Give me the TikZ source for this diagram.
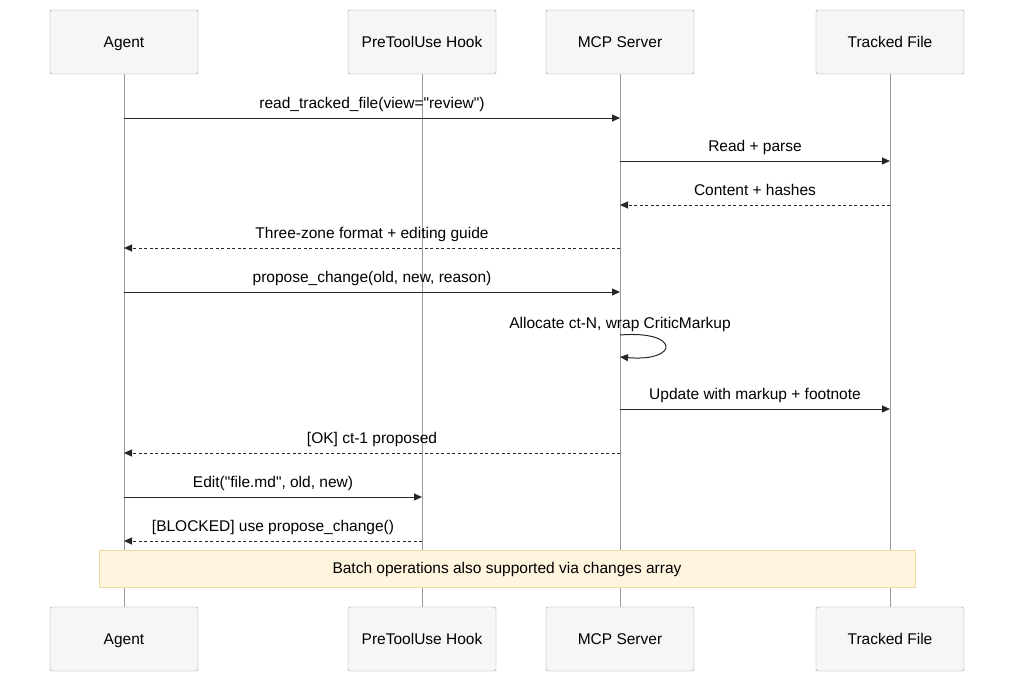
\documentclass[tikz,border=0pt]{standalone}
\usepackage{fontspec}
\setmainfont{Liberation Sans}
\usetikzlibrary{arrows.meta,calc}
\begin{document}
\begin{tikzpicture}[x=1pt,y=-1pt,
  actor/.style={draw=black!40,fill={rgb,255:red,245;green,246;blue,248},rounded corners=2pt,minimum width=148pt,minimum height=64pt,text height=11pt,text depth=1pt,font=\fontsize{15.5}{17}\selectfont},
  life/.style={draw=black!40,line width=1pt},
  msg/.style={-{Triangle[length=8pt,width=7pt]},line width=1pt,black!85},
  ret/.style={msg,dashed,dash pattern=on 3pt off 2.5pt},
  lab/.style={font=\fontsize{15.5}{17}\selectfont,anchor=base}]
\useasboundingbox (0,0) rectangle (1022,688);
\foreach \n/\x/\t in {a/124/Agent,h/422/PreToolUse Hook,m/620/MCP Server,f/890/Tracked File}{
  \coordinate (\n1) at (\x,74);
  \coordinate (\n2) at (\x,607);
  \draw[life] (\n1) -- (\n2);
  \node[actor] (\n T) at (\x,42) {\t};
  \node[actor] (\n B) at (\x,639) {\t};
}
\node[draw={rgb,255:red,240;green,215;blue,160},fill={rgb,255:red,255;green,245;blue,222},minimum width=816pt,minimum height=37pt,text height=11pt,text depth=1pt,font=\fontsize{15.5}{17}\selectfont] (note) at (507,568.5) {Batch operations also supported via changes array};
\foreach \s/\t/\y/\st/\txt in {
 a/m/118/msg/{read\_tracked\_file(view=\textquotedbl review\textquotedbl)},
 m/f/161/msg/{Read + parse},
 f/m/205/ret/{Content + hashes},
 m/a/248/ret/{Three-zone format + editing guide},
 a/m/292/msg/{propose\_change(old, new, reason)},
 m/f/409/msg/{Update with markup + footnote},
 m/a/453/ret/{[OK] ct-1 proposed},
 a/h/497/msg/{Edit(\textquotedbl file.md\textquotedbl, old, new)},
 h/a/541/ret/{[BLOCKED] use propose\_change()}}{
  \coordinate (s) at (\s1 |- 0,\y);
  \coordinate (t) at (\t1 |- 0,\y);
  \draw[\st] (s) -- (t);
  \node[lab] at ($(s)!0.5!(t)+(0,-10)$) {\txt};
}
\coordinate (l1) at (620,335);
\coordinate (l2) at (620,357);
\draw[msg] (l1) .. controls (680,330) and (680,362) .. (l2);
\node[lab] at (620,328) {Allocate ct-N, wrap CriticMarkup};
\end{tikzpicture}
\end{document}
